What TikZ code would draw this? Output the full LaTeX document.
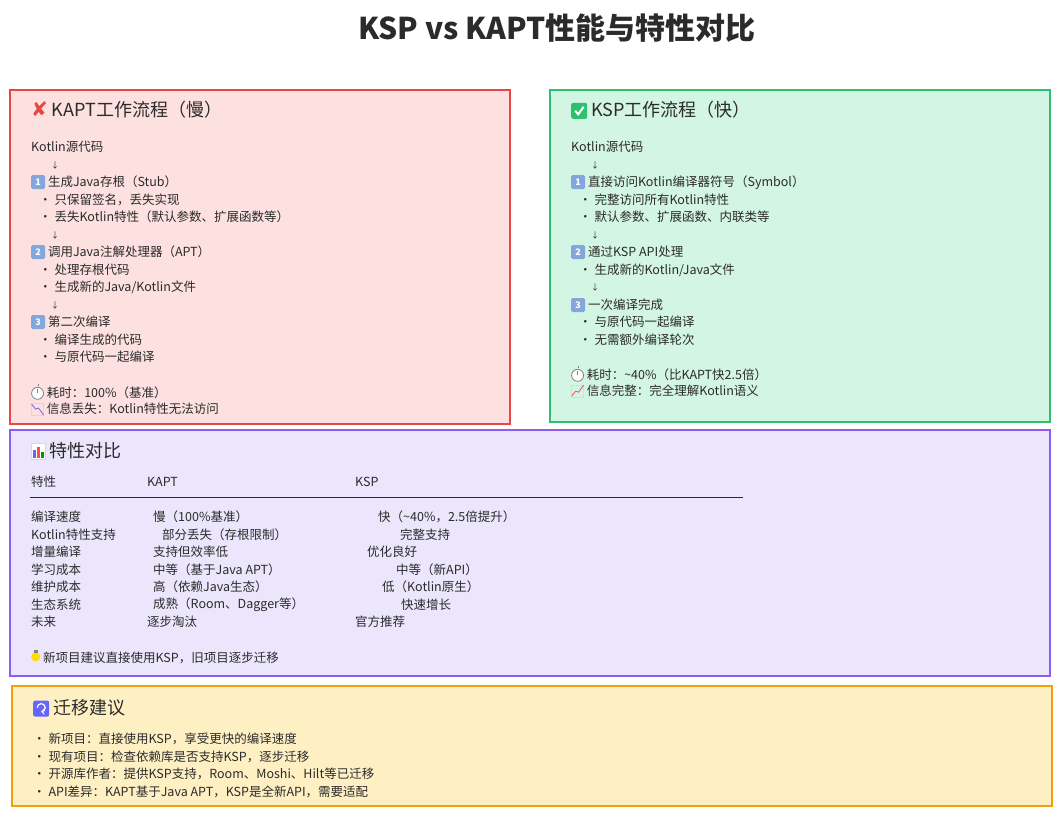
\documentclass[tikz,border=0pt]{standalone}
\usepackage{fontspec}
\setmainfont{Noto Sans CJK SC}
\newfontfamily\symfont{DejaVu Sans}
\usetikzlibrary{positioning}
\definecolor{kaptfill}{HTML}{FDE0E0}\definecolor{kaptdraw}{HTML}{E84545}
\definecolor{kspfill}{HTML}{D3F5E3}\definecolor{kspdraw}{HTML}{2FBF71}
\definecolor{cmpfill}{HTML}{EBE6FC}\definecolor{cmpdraw}{HTML}{8B5CF6}
\definecolor{migfill}{HTML}{FFF0C4}\definecolor{migdraw}{HTML}{F59E0B}
\definecolor{inktext}{HTML}{2B2B2B}
\tikzstyle{panel}=[draw, line width=1.4pt]
\tikzstyle{txt}=[anchor=west, inner sep=0pt, font=\fontsize{12.5}{13}\selectfont, text=inktext]
\tikzstyle{head}=[anchor=west, inner sep=0pt, font=\fontsize{18}{19}\selectfont, text=inktext]
\newcommand{\keycap}[1]{\tikz[baseline=-0.6ex]\node[fill=cyan!50!blue!50, text=white, font=\fontsize{9}{9}\selectfont\bfseries, minimum size=14pt, inner sep=0pt, rounded corners=1.5pt]{#1};}
\newcommand{\bul}{\hspace*{8pt}\textbullet\ }
\newcommand{\darr}{\hspace*{20pt}{\fontsize{8}{8}\selectfont ↓}}
\newcommand{\clockicon}{\tikz[baseline=-0.6ex]{\draw[gray,fill=white,thick](0,0) circle (6pt);\draw[gray,thick](0,0)--(0,4pt);\fill[gray](0,7pt) rectangle +(1.5pt,2pt);}}
\newcommand{\downicon}{\tikz[baseline=-0.6ex]{\draw[gray!30](-6pt,-6pt) rectangle (6pt,6pt);\draw[blue!60,thick](-6pt,5pt)--(-2pt,0)--(1pt,1pt)--(6pt,-6pt);}}
\newcommand{\upicon}{\tikz[baseline=-0.6ex]{\draw[gray!30](-6pt,-6pt) rectangle (6pt,6pt);\draw[red!70,thick](-6pt,-5pt)--(-2pt,0)--(1pt,-1pt)--(6pt,6pt);}}
\begin{document}
\begin{tikzpicture}[x=1pt, y=-1pt]
\useasboundingbox (0,0) rectangle (1062,817);
\node[font=\fontsize{30}{32}\selectfont\bfseries, text=inktext] (title) at (557,28) {KSP vs KAPT性能与特性对比};
% panels
\draw[panel, draw=kaptdraw, fill=kaptfill] (10,90) rectangle (510,424);
\draw[panel, draw=kspdraw, fill=kspfill] (550,90) rectangle (1050,422);
\draw[panel, draw=cmpdraw, fill=cmpfill] (10,430) rectangle (1050,676);
\draw[panel, draw=migdraw, fill=migfill] (12,686) rectangle (1052,806);
% KAPT
\node[head] (kapthead) at (31,110) {{\symfont\color{kaptdraw}\fontsize{20}{20}\selectfont ✘} KAPT工作流程（慢）};
\foreach \y/\t [count=\i] in {147/Kotlin源代码, 165/\darr, 182/\keycap{1} 生成Java存根（Stub）,
  200/\bul 只保留签名，丢失实现, 217/\bul 丢失Kotlin特性（默认参数、扩展函数等）, 235/\darr,
  252/\keycap{2} 调用Java注解处理器（APT）, 270/\bul 处理存根代码, 287/{\bul 生成新的Java/Kotlin文件},
  305/\darr, 322/\keycap{3} 第二次编译, 340/\bul 编译生成的代码, 357/\bul 与原代码一起编译,
  392/\clockicon\ 耗时：100\%（基准）, 409/\downicon\ 信息丢失：Kotlin特性无法访问}
  \node[txt] (kapt\i) at (31,\y) {\t};
% KSP
\node[head] (ksphead) at (571,110) {\tikz[baseline=-0.6ex]{\fill[kspdraw,rounded corners=2pt](-8pt,-8pt) rectangle (8pt,8pt);\draw[white,line width=2pt](-4pt,0)--(-1pt,-3.5pt)--(4.5pt,4pt);} KSP工作流程（快）};
\foreach \y/\t [count=\i] in {147/Kotlin源代码, 165/\darr, 182/\keycap{1} 直接访问Kotlin编译器符号（Symbol）,
  200/\bul 完整访问所有Kotlin特性, 217/\bul 默认参数、扩展函数、内联类等, 235/\darr,
  252/\keycap{2} 通过KSP API处理, 270/{\bul 生成新的Kotlin/Java文件}, 287/\darr,
  305/\keycap{3} 一次编译完成, 322/\bul 与原代码一起编译, 340/\bul 无需额外编译轮次,
  374/\clockicon\ 耗时：\textasciitilde 40\%（比KAPT快2.5倍）, 391/\upicon\ 信息完整：完全理解Kotlin语义}
  \node[txt] (ksp\i) at (571,\y) {\t};
% comparison
\node[head] (cmphead) at (31,451) {\tikz[baseline=-0.6ex]{\draw[gray!30,fill=white](-7pt,-8pt) rectangle (7pt,8pt);\fill[blue!60](-5pt,-6pt) rectangle (-2pt,2pt);\fill[red!70](-1pt,-6pt) rectangle (2pt,5pt);\fill[green!60!black](3pt,-6pt) rectangle (6pt,0pt);} 特性对比};
\node[txt] (colA) at (31,482) {特性};
\node[txt] (colB) at (147,482) {KAPT};
\node[txt] (colC) at (355,482) {KSP};
\coordinate (ruleL) at (30,497); \coordinate (ruleR) at (743,497);
\draw[inktext, line width=0.6pt] (ruleL) -- (ruleR);
\foreach \y/\a/\xb/\b/\xc/\c [count=\i] in {
  517/编译速度/153/慢（100\%基准）/378/快（\textasciitilde 40\%，2.5倍提升）,
  535/Kotlin特性支持/162/部分丢失（存根限制）/400/完整支持,
  552/增量编译/153/支持但效率低/367/优化良好,
  570/学习成本/153/中等（基于Java APT）/396/中等（新API）,
  587/维护成本/153/高（依赖Java生态）/382/低（Kotlin原生）,
  605/生态系统/153/成熟（Room、Dagger等）/401/快速增长,
  622/未来/147/逐步淘汰/355/官方推荐}
{
  \node[txt] (rowA\i) at (31,\y) {\a};
  \node[txt] (rowB\i) at (\xb,\y) {\b};
  \node[txt] (rowC\i) at (\xc,\y) {\c};
}
\node[txt] (tip) at (31,657) {\tikz[baseline=-0.6ex]{\fill[yellow!80!orange](0,1.5pt) circle (4.5pt);\fill[gray](-2pt,5pt) rectangle (2pt,8pt);} 新项目建议直接使用KSP，旧项目逐步迁移};
% migration
\node[head] (mighead) at (33,708) {\tikz[baseline=-0.6ex]{\fill[blue!60,rounded corners=2pt](-8pt,-8pt) rectangle (8pt,8pt);\draw[white,line width=1.2pt,->](-4pt,1pt) arc (180:-90:4pt);} 迁移建议};
\foreach \y/\t [count=\i] in {739/新项目：直接使用KSP，享受更快的编译速度, 757/现有项目：检查依赖库是否支持KSP，逐步迁移,
  774/开源库作者：提供KSP支持，Room、Moshi、Hilt等已迁移, 792/API差异：KAPT基于Java APT，KSP是全新API，需要适配}
  \node[txt] (mig\i) at (33,\y) {\textbullet\ \t};
\end{tikzpicture}
\end{document}
